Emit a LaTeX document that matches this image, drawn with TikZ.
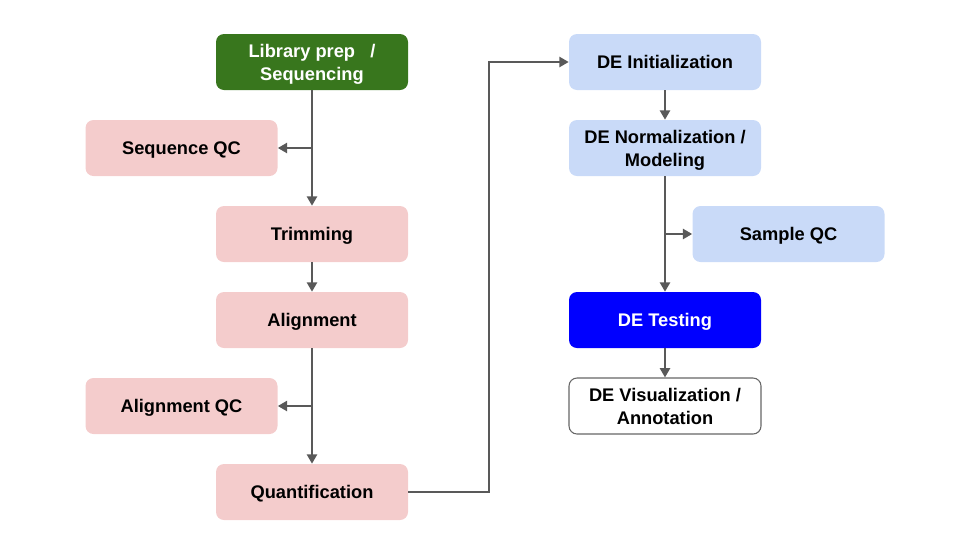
\documentclass[tikz,border=0pt]{standalone}
\usepackage{fontspec}
\setmainfont{Liberation Sans}
\usetikzlibrary{arrows.meta}
\definecolor{dgreen}{HTML}{38761D}
\definecolor{pinkbox}{HTML}{F4CCCC}
\definecolor{bluebox}{HTML}{C9DAF8}
\definecolor{brightblue}{HTML}{0000FF}
\definecolor{linegray}{HTML}{595959}
\definecolor{bordergray}{HTML}{666666}
\begin{document}
\begin{tikzpicture}[x=0.75pt,y=-0.75pt,
  box/.style={rounded corners=6pt, minimum width=144pt, minimum height=42pt, align=center, font=\fontsize{13.7}{17.2}\selectfont\bfseries, inner sep=2pt, text depth=0pt},
  pinkb/.style={box, fill=pinkbox},
  blueb/.style={box, fill=bluebox},
  conn/.style={draw=linegray, line width=2pt, -{Triangle[length=7pt,width=7.5pt]}}]
\useasboundingbox (0,0) rectangle (960,540);
\node[box, fill=dgreen, text=white] (lib) at (312,62) {Library prep\ \ \ /\\Sequencing};
\node[pinkb] (sqc) at (181.5,148) {Sequence QC};
\node[pinkb] (trim) at (312,234) {Trimming};
\node[pinkb] (align) at (312,320) {Alignment};
\node[pinkb] (aqc) at (181.5,406) {Alignment QC};
\node[pinkb] (quant) at (312,492) {Quantification};
\node[blueb] (init) at (665,62) {DE Initialization};
\node[blueb] (norm) at (665,148) {DE Normalization /\\Modeling};
\node[blueb] (samp) at (788.5,234) {Sample QC};
\node[box, fill=brightblue, text=white] (test) at (665,320) {DE Testing};
\node[box, fill=white, draw=bordergray, line width=0.8pt] (vis) at (665,406) {DE Visualization /\\Annotation};
\coordinate (j1) at (312,148);
\coordinate (j2) at (312,406);
\coordinate (j3) at (665,234);
\coordinate (q1) at (489,492);
\coordinate (q2) at (489,62);
\draw[conn] (lib.south) -- (trim.north);
\draw[conn] (j1) -- (sqc.east);
\draw[conn] (trim.south) -- (align.north);
\draw[conn] (align.south) -- (quant.north);
\draw[conn] (j2) -- (aqc.east);
\draw[conn] (quant.east) -- (q1) -- (q2) -- (init.west);
\draw[conn] (init.south) -- (norm.north);
\draw[conn] (norm.south) -- (test.north);
\draw[conn] (j3) -- (samp.west);
\draw[conn] (test.south) -- (vis.north);
\end{tikzpicture}
\end{document}
